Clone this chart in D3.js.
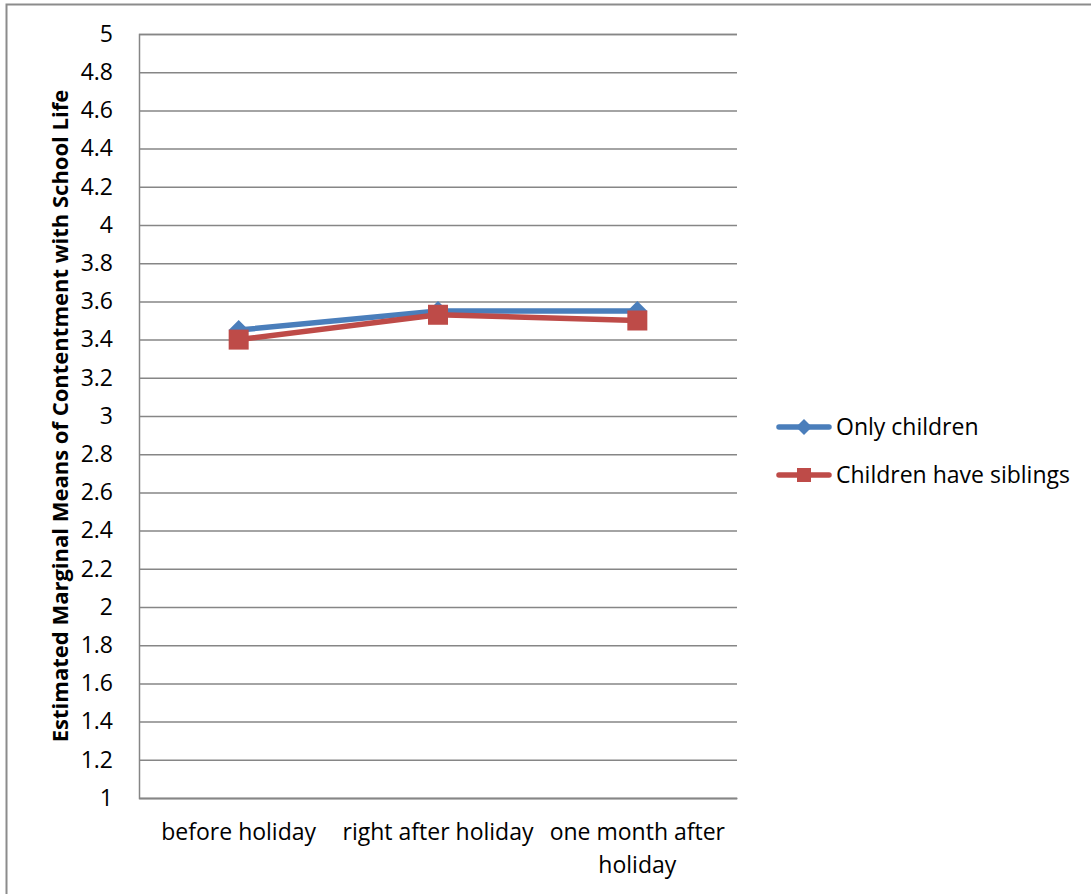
<!DOCTYPE html>
<html>
<head>
<meta charset="utf-8">
<script src="https://cdn.jsdelivr.net/npm/d3@7"></script>
<style>
  html, body { margin: 0; padding: 0; background: #fff; }
  svg { display: block; }
  text { font-family: "Open Sans", "Liberation Sans", sans-serif; fill: #000; }
</style>
</head>
<body>
<svg id="chart" width="1091" height="894"></svg>
<script>
// Time points measured
const categories = ["before holiday", "right after holiday", "one month after holiday"];
// Estimated marginal means per group
const onlyChildren = [3.45, 3.55, 3.55];
const withSiblings = [3.40, 3.53, 3.50];
const seriesNames = ["Only children", "Children have siblings"];
const yTicks = [1, 1.2, 1.4, 1.6, 1.8, 2, 2.2, 2.4, 2.6, 2.8, 3, 3.2, 3.4, 3.6, 3.8, 4, 4.2, 4.4, 4.6, 4.8, 5];
const yTitle = "Estimated Marginal Means of Contentment with School Life";

const series = [
  { name: seriesNames[0], values: onlyChildren, color: "#4A7EBB", marker: "diamond" },
  { name: seriesNames[1], values: withSiblings, color: "#BE4B48", marker: "square" }
];

const FONT = "'Open Sans', sans-serif";
const FS = 23;

const svg = d3.select("#chart");
const plot = { left: 139, right: 737, top: 34, bottom: 798 };
const gridColor = "#868686";

// outer chart border (runs off the right and bottom edges)
svg.append("rect")
  .attr("x", 6.5).attr("y", 4.5)
  .attr("width", 1200).attr("height", 1000)
  .attr("fill", "none").attr("stroke", "#8c8c8c").attr("stroke-width", 2);

const x = d3.scaleBand().domain(categories).range([plot.left, plot.right]);
const y = d3.scaleLinear().domain([1, 5]).range([plot.bottom, plot.top]);

// horizontal gridlines with value labels
const yAxis = d3.axisLeft(y)
  .tickValues(yTicks)
  .tickSize(-(plot.right - plot.left))
  .tickPadding(26)
  .tickFormat(d3.format("~g"));
const gy = svg.append("g").attr("transform", `translate(${plot.left},0)`).call(yAxis);
gy.select(".domain").attr("stroke", gridColor).attr("stroke-width", 1.5);
gy.selectAll(".tick line").attr("stroke", gridColor).attr("stroke-width", 1.5);
gy.selectAll(".tick text")
  .attr("font-size", FS)
  .attr("font-family", FONT)
  .attr("fill", "#000");

// category axis along the bottom
const xAxis = d3.axisBottom(x).tickSize(0).tickPadding(0);
const gx = svg.append("g").attr("transform", `translate(0,${plot.bottom})`).call(xAxis);
gx.select(".domain").attr("stroke", gridColor).attr("stroke-width", 1.5);
gx.selectAll(".tick text").remove();
gx.selectAll(".tick").each(function(d) {
  const t = d3.select(this).append("text")
    .attr("text-anchor", "middle")
    .attr("font-size", FS)
    .attr("font-family", FONT)
    .attr("fill", "#000");
  const lines = d === "one month after holiday" ? ["one month after", "holiday"] : [d];
  lines.forEach((ln, i) => {
    t.append("tspan").attr("x", 0).attr("y", 42 + i * 33).text(ln);
  });
});

// y-axis title
svg.append("text")
  .attr("transform", `translate(68,${(plot.top + plot.bottom) / 2}) rotate(-90)`)
  .attr("text-anchor", "middle")
  .attr("font-size", 22)
  .attr("font-weight", "bold")
  .text(yTitle);

// series lines and markers
const line = d3.line()
  .x((d, i) => x(categories[i]) + x.bandwidth() / 2)
  .y(d => y(d));

function drawMarker(g, type, cx, cy, color, size) {
  if (type === "diamond") {
    g.append("path")
      .attr("d", `M${cx},${cy - size}L${cx + size},${cy}L${cx},${cy + size}L${cx - size},${cy}Z`)
      .attr("fill", color);
  } else {
    g.append("rect")
      .attr("x", cx - size).attr("y", cy - size)
      .attr("width", size * 2).attr("height", size * 2)
      .attr("fill", color);
  }
}

series.forEach(s => {
  const g = svg.append("g");
  g.append("path")
    .datum(s.values)
    .attr("d", line)
    .attr("fill", "none")
    .attr("stroke", s.color)
    .attr("stroke-width", 5.5)
    .attr("stroke-linejoin", "round");
  s.values.forEach((v, i) => {
    const cx = x(categories[i]) + x.bandwidth() / 2;
    drawMarker(g, s.marker, cx, y(v), s.color, 10);
  });
});

// legend
const legend = svg.append("g");
series.forEach((s, i) => {
  const ly = 427 + i * 48;
  const g = legend.append("g");
  g.append("line")
    .attr("x1", 779).attr("x2", 829)
    .attr("y1", ly).attr("y2", ly)
    .attr("stroke", s.color).attr("stroke-width", 5.5).attr("stroke-linecap", "round");
  drawMarker(g, s.marker, 804, ly, s.color, s.marker === "diamond" ? 8 : 7);
  g.append("text")
    .attr("x", 836).attr("y", ly + 8)
    .attr("font-size", FS)
    .text(s.name);
});
</script>
</body>
</html>
